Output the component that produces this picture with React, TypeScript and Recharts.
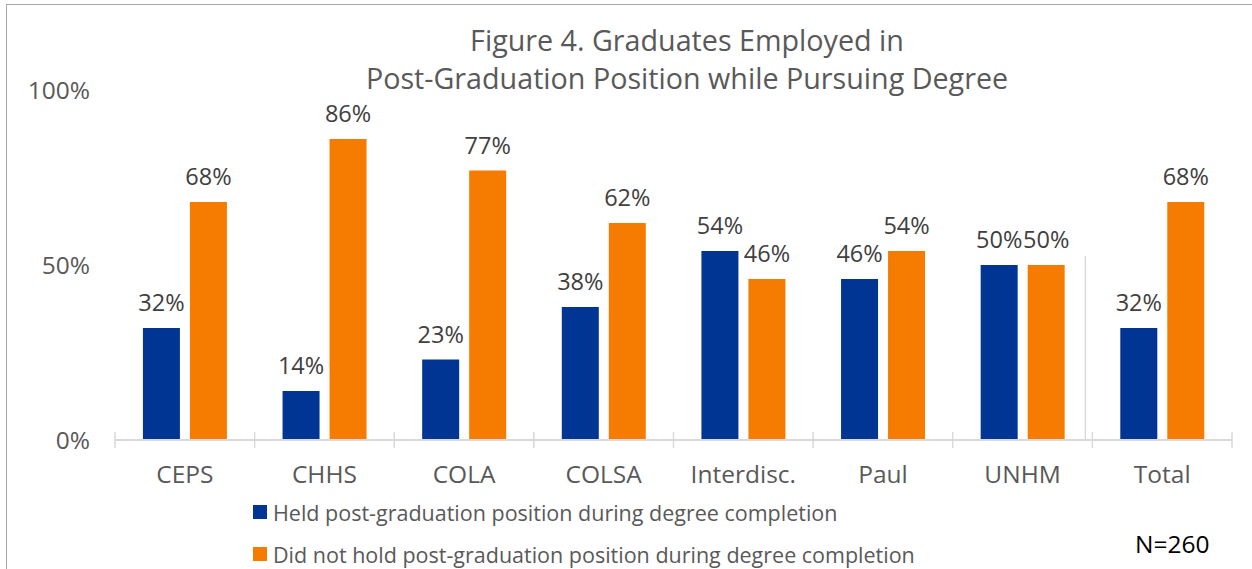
import React from 'react';
import { BarChart, Bar, XAxis, YAxis, LabelList, ReferenceLine } from 'recharts';

const categories = ['CEPS', 'CHHS', 'COLA', 'COLSA', 'Interdisc.', 'Paul', 'UNHM', 'Total'];
const heldValues = [32, 14, 23, 38, 54, 46, 50, 32];
const notHeldValues = [68, 86, 77, 62, 46, 54, 50, 68];
const yTicks = [0, 50, 100];
const seriesNames = [
  'Held post-graduation position during degree completion',
  'Did not hold post-graduation position during degree completion',
];
const titleLines = ['Figure 4. Graduates Employed in', 'Post-Graduation Position while Pursuing Degree'];
const noteText = 'N=260';

const BLUE = '#003594';
const ORANGE = '#F57C00';
const FONT = '"Open Sans", "Noto Sans", sans-serif';

const data = categories.map((c, i) => ({ name: c, held: heldValues[i], notHeld: notHeldValues[i] }));

const XTick = (props: any) => {
  const { x, y, payload, index, visibleTicksCount } = props;
  const off = payload.offset || 0;
  const axisY = y - 8;
  return (
    <g>
      <line x1={x - off} x2={x - off} y1={axisY - 8} y2={axisY + 8} stroke="#d9d9d9" strokeWidth={1.5} />
      {index === visibleTicksCount - 1 && (
        <line x1={x + off} x2={x + off} y1={axisY - 8} y2={axisY + 8} stroke="#d9d9d9" strokeWidth={1.5} />
      )}
      <text x={x} y={axisY + 43} textAnchor="middle" fill="#595959" fontSize={24.5} fontFamily={FONT}>
        {payload.value}
      </text>
    </g>
  );
};

const SepLine = (props: any) => {
  const { x1, y1, x2, y2 } = props;
  return <line x1={x1 - 7} x2={x2 - 7} y1={y1} y2={y2} stroke="#d9d9d9" strokeWidth={1.5} />;
};

export default function App() {
  return (
    <div style={{ position: 'absolute', left: 0, top: 0, width: 1252, height: 569, overflow: 'hidden', background: '#fff' }}>
      <div style={{ position: 'absolute', left: 6, top: 4, width: 1300, height: 700, borderTop: '1.5px solid #a6a6a6', borderLeft: '1.5px solid #a6a6a6' }} />
      <div style={{ position: 'absolute', left: 51, top: 21, width: 1272, textAlign: 'center', fontFamily: FONT, fontSize: 28.7, lineHeight: '38px', color: '#595959' }}>
        {titleLines.map((t) => (
          <div key={t}>{t}</div>
        ))}
      </div>
      <div style={{ position: 'absolute', left: 253, top: 491, fontFamily: FONT, fontSize: 21.5, color: '#595959' }}>
        {seriesNames.map((n, i) => (
          <div key={n} style={{ display: 'flex', alignItems: 'center', height: 42 }}>
            <span style={{ display: 'inline-block', width: 14, height: 14, background: i === 0 ? BLUE : ORANGE, marginRight: 6 }} />
            <span>{n}</span>
          </div>
        ))}
      </div>
      <div style={{ position: 'absolute', left: 1135, top: 527, fontFamily: FONT, fontSize: 24.5, color: '#000' }}>{noteText}</div>
      <BarChart
        width={1252}
        height={569}
        data={data}
        margin={{ top: 90, right: 20, left: 0, bottom: 79 }}
        barCategoryGap="20%"
        barGap={10}
        style={{ position: 'absolute', left: 0, top: 0 }}
      >
        <XAxis
          dataKey="name"
          axisLine={{ stroke: '#d9d9d9', strokeWidth: 2 }}
          tickLine={false}
          tick={<XTick />}
          height={50}
          interval={0}
        />
        <YAxis
          domain={[0, 100]}
          ticks={yTicks}
          tickFormatter={(v: number) => `${v}%`}
          axisLine={false}
          tickLine={false}
          tickSize={0}
          tickMargin={25}
          width={115}
          tick={{ fill: '#595959', fontSize: 24.5, fontFamily: FONT }}
        />
        <ReferenceLine
          segment={[{ x: 'Total', y: 0 }, { x: 'Total', y: 52.5 }]}
          position="start"
          shape={<SepLine />}
          ifOverflow="visible"
        />
        <Bar dataKey="held" name={seriesNames[0]} fill={BLUE} isAnimationActive={false}>
          <LabelList dataKey="held" position="top" offset={17} formatter={(v: number) => `${v}%`} fill="#404040" fontSize={23.5} fontFamily={FONT} />
        </Bar>
        <Bar dataKey="notHeld" name={seriesNames[1]} fill={ORANGE} isAnimationActive={false}>
          <LabelList dataKey="notHeld" position="top" offset={17} formatter={(v: number) => `${v}%`} fill="#404040" fontSize={23.5} fontFamily={FONT} />
        </Bar>
      </BarChart>
    </div>
  );
}
